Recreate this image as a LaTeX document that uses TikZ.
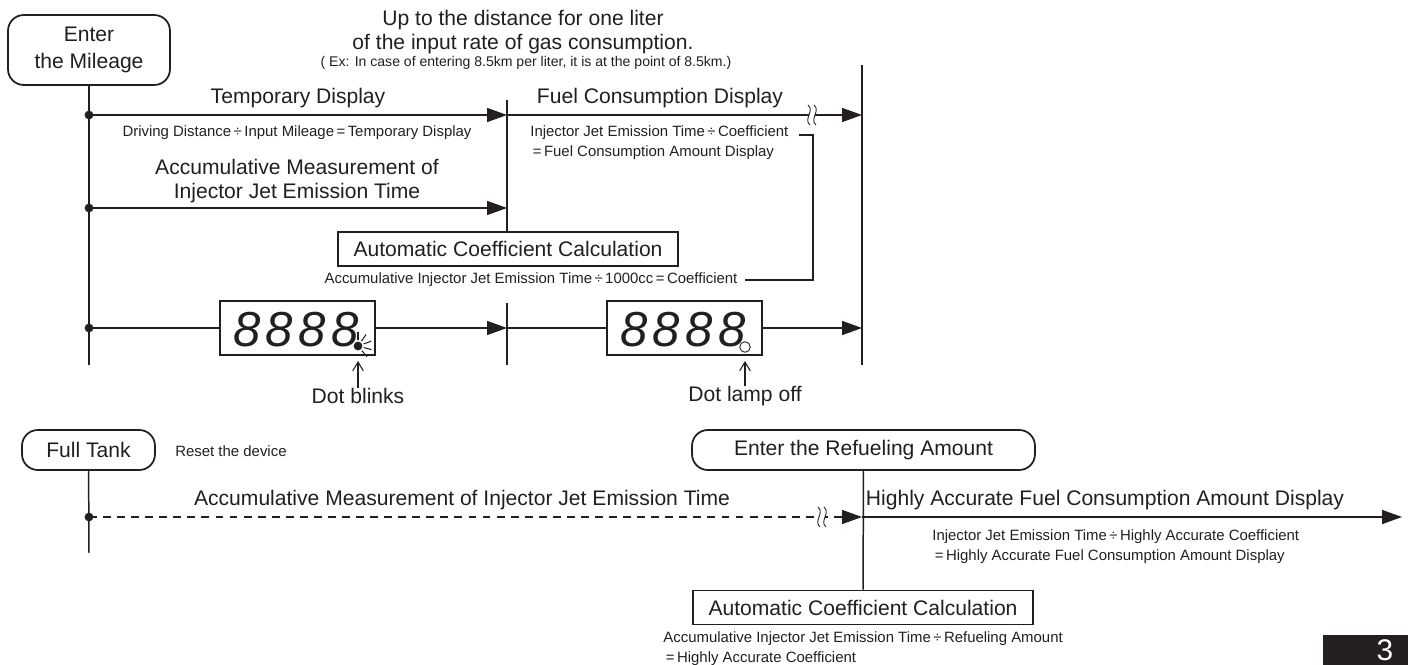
\documentclass[tikz,border=0pt]{standalone}
\usepackage{fontspec}
\setmainfont{Liberation Sans}
\usetikzlibrary{arrows.meta}
\definecolor{ink}{HTML}{231F20}
\tikzstyle{terminal}=[draw=ink,line width=1pt,rounded corners=9pt,align=center,inner sep=0pt,text=ink,font=\fontsize{12}{15}\selectfont]
\tikzstyle{calcbox}=[draw=ink,line width=1pt,inner sep=0pt,minimum width=6.8cm,minimum height=0.68cm,text=ink,font=\fontsize{12}{15}\selectfont]
\tikzstyle{panel}=[draw=ink,line width=0.6pt,minimum width=3.1cm,minimum height=1.08cm,inner sep=0pt]
\tikzstyle{big}=[text=ink,inner sep=0pt,align=center,font=\fontsize{12}{13.5}\selectfont]
\tikzstyle{small}=[text=ink,inner sep=0pt,align=left,font=\fontsize{8.5}{11.4}\selectfont]
\tikzstyle{tiny}=[text=ink,inner sep=0pt,font=\fontsize{8}{9}\selectfont]
\tikzstyle{digits}=[text=ink,inner sep=0pt,font=\fontsize{28}{28}\selectfont\itshape\addfontfeature{LetterSpace=11}]
\tikzstyle{flow}=[draw=ink,line width=0.85pt,-{Triangle[length=0.4cm,width=0.28cm]}]
\tikzstyle{bar}=[draw=ink,line width=0.85pt]
\tikzstyle{thinline}=[draw=ink,line width=0.6pt]
\tikzstyle{pointer}=[draw=ink,line width=0.6pt,-{Straight Barb[length=5pt,width=6pt]}]
\tikzstyle{junction}=[circle,fill=ink,inner sep=0pt,minimum size=5pt]
\tikzstyle{breakmark}=[draw=ink,line width=0.5pt]
\newcommand{\dv}{\,÷\,}
\newcommand{\eq}{\,=\,}

\begin{document}
\begin{tikzpicture}[x=0.02cm,y=-0.02cm]
\useasboundingbox (0,0) rectangle (1408,665);

% upper part
\node[big] (limit) at (523,32) {Up to the distance for one liter\\of the input rate of gas consumption.};
\node[tiny] (example) at (526,63) {( Ex: In case of entering 8.5km per liter, it is at the point of 8.5km.)};
\node[terminal,minimum width=3.24cm,minimum height=1.4cm] (mileage) at (89,50) {Enter\\the Mileage};

\node[junction] (j1) at (89,115) {};
\node[junction] (j2) at (89,208) {};
\node[junction] (j3) at (89,328) {};
\coordinate (leftend) at (89,365);
\coordinate (midtop) at (507,100);
\coordinate (t1) at (507,115);
\coordinate (t2) at (862,115);
\coordinate (t3) at (507,208);
\coordinate (midlow) at (507,303);
\coordinate (t4) at (507,328);
\coordinate (midend) at (507,365);
\coordinate (righttop) at (862,65);
\coordinate (t5) at (862,328);
\coordinate (rightend) at (862,365);

\node[big] (tmpdisp) at (298,98) {Temporary Display};
\node[small] (tmpnote) at (297,133) {Driving Distance\dv Input Mileage\eq Temporary Display};
\node[big] (fcdisp) at (660,98) {Fuel Consumption Display};
\node[small,anchor=west] (fcnote) at (530,143) {Injector Jet Emission Time\dv Coefficient\\\eq Fuel Consumption Amount Display};
\node[big] (accmeas) at (297,181) {Accumulative Measurement of\\Injector Jet Emission Time};
\node[calcbox] (calc1) at (508,249) {Automatic Coefficient Calculation};
\node[small] (coefnote) at (531,280) {Accumulative Injector Jet Emission Time\dv 1000cc\eq Coefficient};
\coordinate (b1) at (799,135);
\coordinate (b2) at (813,280);

\node[panel] (panel1) at (297.5,328) {};
\node[panel] (panel2) at (684.5,328) {};
\node[digits] (num1) at (296,330) {8888};
\node[digits] (num2) at (683,330) {8888};
\node[circle,fill=ink,inner sep=0pt,minimum size=5pt] (blink) at (358,346) {};
\node[circle,draw=ink,line width=0.5pt,inner sep=0pt,minimum size=6pt] (lampoff) at (745,347) {};
\foreach \a in {-90,-55,-20,15,50}
  \draw[thinline] (blink.center) ++(\a:6) -- ++(\a:8);
\node[big] (blinktxt) at (358,396) {Dot blinks};
\node[big] (offtxt) at (745,396) {Dot lamp off};
\coordinate (blinktip) at (358,361);
\coordinate (offtip) at (745,361);

\draw[bar] (mileage) -- (leftend);
\draw[bar] (midtop) -- (midtop |- calc1.north);
\draw[bar] (midlow) -- (midend);
\draw[bar] (righttop) -- (rightend);
\draw[flow] (j1.center) -- (t1);
\draw[flow] (t1) -- (t2);
\draw[flow] (j2.center) -- (t3);
\draw[bar] (j3.center) -- (panel1);
\draw[flow] (panel1) -- (t4);
\draw[bar] (t4) -- (panel2);
\draw[flow] (panel2) -- (t5);
\draw[thinline] (b1) -| (b2) -- ([xshift=4pt]coefnote.east);
\draw[pointer] (blinktxt.north) -- (blinktip);
\draw[pointer] (offtxt.north) -- (offtip);

% lower part
\node[terminal,minimum width=2.66cm,minimum height=0.8cm] (fulltank) at (88.5,450) {Full Tank};
\node[small,anchor=west] (reset) at (175,451) {Reset the device};
\node[terminal,minimum width=6.86cm,minimum height=0.8cm] (refuel) at (863.5,450) {Enter the Refueling Amount};
\node[junction] (j4) at (89,517) {};
\coordinate (leftend2) at (89,553);
\coordinate (t6) at (862,517);
\coordinate (t7) at (1402,517);

\node[big] (accmeas2) at (462,500) {Accumulative Measurement of Injector Jet Emission Time};
\node[big] (hadisp) at (1105,500) {Highly Accurate Fuel Consumption Amount Display};
\node[small,anchor=west] (hanote) at (932,547) {Injector Jet Emission Time\dv Highly Accurate Coefficient\\\eq Highly Accurate Fuel Consumption Amount Display};
\node[calcbox] (calc2) at (863,607.5) {Automatic Coefficient Calculation};
\node[small,anchor=west] (refnote) at (663,649) {Accumulative Injector Jet Emission Time\dv Refueling Amount\\\eq Highly Accurate Coefficient};

\draw[bar] (fulltank) -- (leftend2);
\draw[flow,dash pattern=on 4.5pt off 3.5pt] (j4.center) -- (t6);
\draw[bar] (refuel) -- (calc2);
\draw[flow] (t6) -- (t7);

% break marks
\foreach \bx/\by in {812/115,822/517} {
  \fill[white] (\bx-3,\by-10) rectangle (\bx+3,\by+10);
  \foreach \dx in {-3,3}
    \draw[breakmark] (\bx+\dx-1,\by-10) .. controls (\bx+\dx+6,\by-4) and (\bx+\dx-6,\by+4) .. (\bx+\dx+1,\by+10);
}

% page number
\fill[ink] (1323,635) rectangle (1408,665);
\node[text=white,inner sep=0pt,font=\fontsize{17}{17}\selectfont] (pageno) at (1385,650) {3};
\end{tikzpicture}
\end{document}
